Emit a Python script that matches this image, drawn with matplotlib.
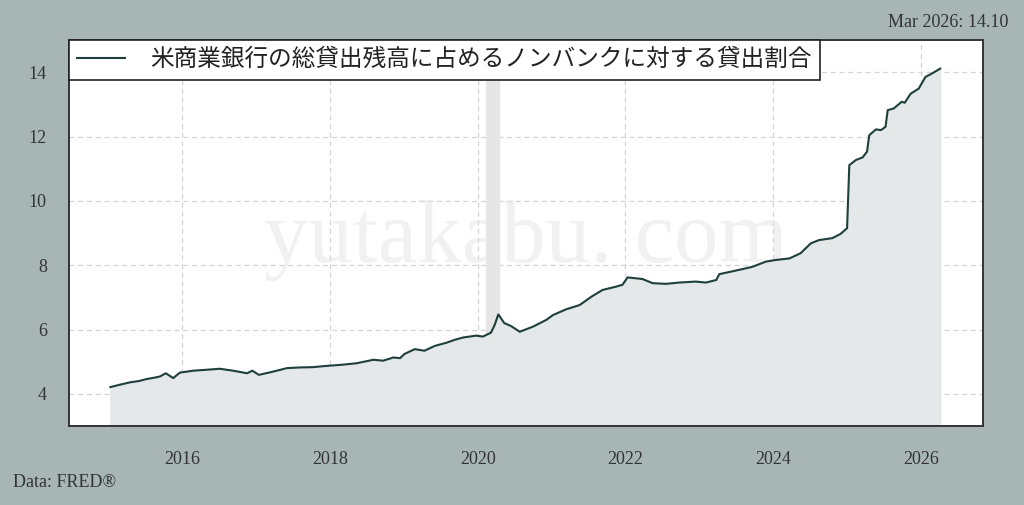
import matplotlib
matplotlib.use("Agg")
import matplotlib.pyplot as plt
import numpy as np

# values (decimal year, percent)
years = [2015.03, 2015.15, 2015.30, 2015.42, 2015.52, 2015.62, 2015.70, 2015.78, 2015.88,
         2015.97, 2016.15, 2016.34, 2016.51, 2016.69, 2016.88, 2016.95, 2017.04, 2017.23,
         2017.42, 2017.59, 2017.77, 2017.96, 2018.14, 2018.36, 2018.59, 2018.72, 2018.86,
         2018.95, 2019.01, 2019.15, 2019.28, 2019.42, 2019.58, 2019.69, 2019.80, 2019.98,
         2020.07, 2020.18, 2020.23, 2020.28, 2020.36, 2020.45, 2020.57, 2020.75, 2020.93,
         2021.02, 2021.20, 2021.38, 2021.54, 2021.69, 2021.87, 2021.96, 2022.03, 2022.23,
         2022.37, 2022.55, 2022.73, 2022.95, 2023.09, 2023.23, 2023.27, 2023.49, 2023.72,
         2023.90, 2024.03, 2024.22, 2024.37, 2024.51, 2024.62, 2024.80, 2024.91, 2025.00,
         2025.03, 2025.12, 2025.21, 2025.27, 2025.30, 2025.39, 2025.46, 2025.52, 2025.55,
         2025.63, 2025.74, 2025.78, 2025.86, 2025.97, 2026.06, 2026.15, 2026.26]
values = [4.21, 4.28, 4.36, 4.40, 4.46, 4.50, 4.54, 4.64, 4.49,
          4.66, 4.72, 4.75, 4.78, 4.72, 4.64, 4.72, 4.59, 4.69,
          4.80, 4.82, 4.83, 4.87, 4.90, 4.95, 5.06, 5.03, 5.13,
          5.11, 5.24, 5.39, 5.34, 5.49, 5.59, 5.68, 5.75, 5.81,
          5.78, 5.90, 6.14, 6.47, 6.20, 6.11, 5.93, 6.09, 6.30,
          6.45, 6.63, 6.76, 7.02, 7.23, 7.33, 7.39, 7.62, 7.57,
          7.44, 7.42, 7.46, 7.49, 7.46, 7.54, 7.72, 7.83, 7.95,
          8.11, 8.16, 8.21, 8.37, 8.68, 8.78, 8.84, 8.97, 9.15,
          11.11, 11.27, 11.35, 11.53, 12.04, 12.22, 12.20, 12.30, 12.82,
          12.87, 13.08, 13.05, 13.33, 13.49, 13.85, 13.96, 14.11]

recession = (2020.12, 2020.29)
label = "米商業銀行の総貸出残高に占めるノンバンクに対する貸出割合"
last_note = "Mar 2026: 14.10"
source = "Data: FRED®"

bg = "#a7b6b5"
line_c = "#1e3f3b"
num_font = ["Liberation Serif", "Noto Sans CJK JP"]

fig = plt.figure(figsize=(10.24, 5.05), dpi=100, facecolor=bg)
ax = fig.add_axes([0.0674, 0.1564, 0.8926, 0.7644])
ax.set_facecolor("white")

ax.axvspan(*recession, color="#e6e6e6", zorder=1)
ax.fill_between(years, values, 0, color="#e4e8e9", zorder=2)
ax.plot(years, values, color=line_c, lw=1.5, label=label, zorder=3)

ax.set_xlim(2014.47, 2026.84)
ax.set_ylim(3, 15)
ax.set_xticks(np.arange(2016, 2027, 2))
ax.set_yticks(np.arange(4, 15, 2))
ax.grid(True, ls=(0, (4, 3)), color="#d4d4d4", lw=0.9, zorder=0)
ax.set_axisbelow(True)
ax.tick_params(length=0, labelsize=13, colors="#333333")
ax.tick_params(axis="x", pad=18)
ax.tick_params(axis="y", pad=16)
for t in ax.get_xticklabels() + ax.get_yticklabels():
    t.set_family(num_font)
for s in ax.spines.values():
    s.set_color("#333333")
    s.set_linewidth(1.4)

ax.text(0.5, 0.48, "yutakabu. com", transform=ax.transAxes, ha="center", va="center",
        fontsize=64, family="Liberation Serif", color="#e6e6e6", alpha=0.55, zorder=2.5)

leg = ax.legend(loc="upper left", borderaxespad=0, fancybox=False, framealpha=1,
                edgecolor="#222222", handlelength=2.0, handletextpad=1.1, borderpad=0.35,
                prop={"family": ["Noto Sans CJK JP", "DejaVu Sans"], "size": 17})
leg.get_frame().set_linewidth(1.2)
for t in leg.get_texts():
    t.set_color("#222222")

fig.text(0.985, 0.955, last_note, ha="right", va="center", fontsize=13,
         family=num_font, color="#333333")
fig.text(0.013, 0.045, source, ha="left", va="center", fontsize=13,
         family=num_font, color="#333333")

fig.savefig("out.png", dpi=100, facecolor=bg)
